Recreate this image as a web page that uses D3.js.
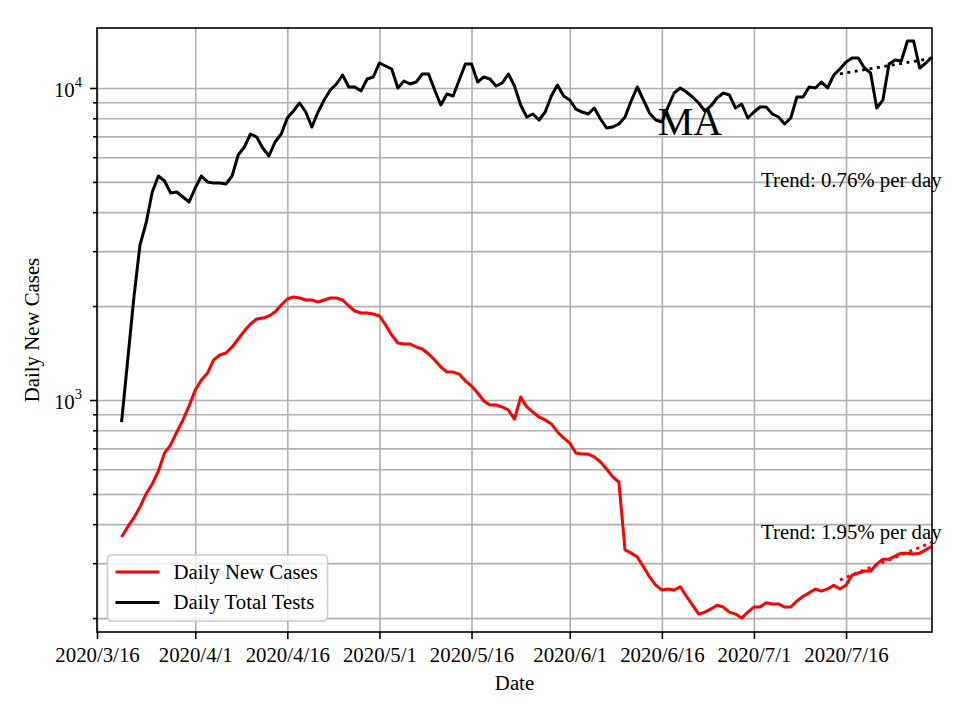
<!DOCTYPE html>
<html>
<head>
<meta charset="utf-8">
<script src="https://cdn.jsdelivr.net/npm/d3@7"></script>
<style>
  body { margin: 0; background: #fff; }
  svg text { font-family: "Liberation Serif", "Times New Roman", serif; fill: #000; }
</style>
</head>
<body>
<svg id="chart" width="960" height="720"></svg>
<script>
// Daily values, one per day starting 2020/3/20
var startDay = "2020-03-20";

var dailyTests = [
    850, 1343, 2123, 3140, 3693, 4642, 5222, 5033, 4608, 4642, 4473, 4311,
    4780, 5222, 4996, 4959, 4959, 4923, 5222, 6100, 6470, 7122, 6965, 6422, 6055, 6713, 7122,
    8013, 8437, 8952, 8375, 7499, 8375, 9152, 9853, 10299, 11007, 10074, 10074, 9781, 10686, 10846,
    12026, 11763, 11506, 10000, 10530, 10299, 10452, 11089, 11089, 9853, 8822, 9567, 9428, 10607, 11938,
    11938, 10452, 10846, 10686, 10148, 10375, 11089, 10148, 8822, 8074, 8254, 7897, 8375, 9428, 10223, 9428,
    9152, 8562, 8375, 8254, 8626, 7955, 7444, 7499, 7667, 8074, 9085, 10074, 9152, 8316, 7897,
    7780, 8690, 9638, 10000, 9710, 9359, 8952, 8437, 8758, 9289, 9638, 9497, 8626, 8887, 8013,
    8375, 8690, 8690, 8254, 8074, 7667, 8013, 9359, 9359, 10074, 10000, 10452, 10000, 11007, 11506,
    12115, 12480, 12480, 11590, 11171, 8626, 9152, 11938, 12295, 12205, 14145, 14145, 11590, 12026, 12573
];

var dailyCases = [
    364, 392, 419, 454, 500, 538, 592, 676, 718, 790, 863, 957,
    1077, 1159, 1220, 1344, 1394, 1415, 1479, 1569, 1664, 1752, 1818, 1831, 1859, 1915, 2016,
    2107, 2138, 2123, 2092, 2092, 2062, 2092, 2123, 2123, 2092, 2001, 1929, 1900, 1900, 1886,
    1859, 1740, 1616, 1523, 1512, 1512, 1479, 1457, 1404, 1344, 1276, 1229, 1229, 1211, 1151,
    1109, 1053, 993, 964, 964, 950, 929, 869, 1022, 950, 915, 882, 863, 838, 790, 756,
    728, 676, 671, 671, 657, 633, 601, 567, 546, 331, 323, 314, 292, 271, 255,
    246, 248, 246, 252, 235, 220, 206, 209, 214, 220, 217, 209, 206, 200, 209,
    217, 217, 224, 222, 222, 217, 217, 227, 235, 241, 248, 244, 248, 255, 248,
    255, 275, 279, 283, 283, 298, 309, 309, 316, 323, 323, 321, 323, 331, 340
];

// Trend fits: end points of the dotted lines
var trendDates = ["2020-07-15", "2020-07-30"];
var trendTests = [11100, 12450];
var trendCases = [265, 350];
var trendLabels = ["Trend: 0.76% per day", "Trend: 1.95% per day"];

var xTickDates = ["2020-03-16", "2020-04-01", "2020-04-16", "2020-05-01", "2020-05-16",
                  "2020-06-01", "2020-06-16", "2020-07-01", "2020-07-16"];
var xTickLabels = ["2020/3/16", "2020/4/1", "2020/4/16", "2020/5/1", "2020/5/16",
                   "2020/6/1", "2020/6/16", "2020/7/1", "2020/7/16"];
var yMajor = [1000, 10000];
var yMajorExp = ["3", "4"];
var yMinor = [200, 300, 400, 500, 600, 700, 800, 900,
              2000, 3000, 4000, 5000, 6000, 7000, 8000, 9000];

var legendLabels = ["Daily New Cases", "Daily Total Tests"];
var legendColors = ["#ff0000", "#000000"];

// layout (note: "top" is reserved on window, so use plot* names)
var plotLeft = 97, plotRight = 932, plotTop = 28, plotBottom = 632;
var fontSize = 20.8;
var gridColor = "#b0b0b0";

var parse = d3.utcParse("%Y-%m-%d");
var day0 = parse(startDay);
var days = dailyTests.map(function(d, i){ return d3.utcDay.offset(day0, i); });

var x = d3.scaleUtc()
    .domain([parse("2020-03-16"), parse("2020-07-30")])
    .range([plotLeft, plotRight]);
var y = d3.scaleLog()
    .domain([180.5, 15570])
    .range([plotBottom, plotTop]);

var $svg = d3.select("#chart");

// grid lines
var $grid = $svg.append("g").attr("class", "grid");
$grid.append("g")
    .attr("transform", `translate(0 ${plotBottom})`)
    .call(d3.axisBottom(x).tickValues(xTickDates.map(parse)).tickSize(-(plotBottom - plotTop)).tickFormat(""))
    .call(g => g.select(".domain").remove());
$grid.append("g")
    .attr("transform", `translate(${plotLeft} 0)`)
    .call(d3.axisLeft(y).tickValues(yMajor.concat(yMinor)).tickSize(-(plotRight - plotLeft)).tickFormat(""))
    .call(g => g.select(".domain").remove());
$grid.selectAll("line")
    .attr("stroke", gridColor)
    .attr("stroke-width", 1.6);

// data lines
var line = d3.line()
    .x(function(d){ return x(d[0]); })
    .y(function(d){ return y(d[1]); });

function drawSeries(values, color) {
    $svg.append("path")
        .datum(days.map(function(d, i){ return [d, values[i]]; }))
        .attr("d", line)
        .attr("fill", "none")
        .attr("stroke", color)
        .attr("stroke-width", 3)
        .attr("stroke-linejoin", "round");
}
drawSeries(dailyCases, "#ff0000");
drawSeries(dailyTests, "#000000");

// trend lines (dotted)
function drawTrend(values, color) {
    $svg.append("path")
        .datum(trendDates.map(function(d, i){ return [parse(d), values[i]]; }))
        .attr("d", line)
        .attr("fill", "none")
        .attr("stroke", color)
        .attr("stroke-width", 3)
        .attr("stroke-dasharray", "3,4.5");
}
drawTrend(trendCases, "#ff0000");
drawTrend(trendTests, "#000000");

// axes with ticks
var $axes = $svg.append("g").attr("class", "axes");
var $xAxis = $axes.append("g")
    .attr("transform", `translate(0 ${plotBottom})`)
    .call(d3.axisBottom(x)
        .tickValues(xTickDates.map(parse))
        .tickFormat(function(d, i){ return xTickLabels[i]; })
        .tickSize(7)
        .tickPadding(8));
$xAxis.selectAll("text").attr("font-size", fontSize).attr("font-family", "Liberation Serif");

$axes.append("g")
    .attr("transform", `translate(${plotLeft} 0)`)
    .call(d3.axisLeft(y).tickValues(yMajor).tickSize(7).tickFormat(""));
$axes.append("g")
    .attr("transform", `translate(${plotLeft} 0)`)
    .call(d3.axisLeft(y).tickValues(yMinor).tickSize(4).tickFormat(""));
$axes.selectAll(".domain").remove();
$axes.selectAll(".tick line").attr("stroke", "#000").attr("stroke-width", 1.6);

// y tick labels as 10^n
yMajor.forEach(function(v, i){
    var t = $svg.append("text")
        .attr("x", plotLeft - 15)
        .attr("y", y(v) + 8.7)
        .attr("text-anchor", "end")
        .attr("font-size", fontSize);
    t.append("tspan").text("10");
    t.append("tspan").attr("dy", -10).attr("font-size", 14.6).text(yMajorExp[i]);
});

// frame
$svg.append("rect")
    .attr("x", plotLeft).attr("y", plotTop)
    .attr("width", plotRight - plotLeft).attr("height", plotBottom - plotTop)
    .attr("fill", "none")
    .attr("stroke", "#000")
    .attr("stroke-width", 1.6);

// texts in plot
$svg.append("text")
    .attr("x", 690).attr("y", 135)
    .attr("text-anchor", "middle")
    .attr("font-size", 40)
    .text("MA");
$svg.append("text")
    .attr("x", 761).attr("y", 187)
    .attr("font-size", fontSize)
    .text(trendLabels[0]);
$svg.append("text")
    .attr("x", 761).attr("y", 539)
    .attr("font-size", fontSize)
    .text(trendLabels[1]);

// axis labels
$svg.append("text")
    .attr("x", (plotLeft + plotRight) / 2).attr("y", 690)
    .attr("text-anchor", "middle")
    .attr("font-size", fontSize)
    .text("Date");
$svg.append("text")
    .attr("transform", `translate(38.5 ${(plotTop + plotBottom) / 2}) rotate(-90)`)
    .attr("text-anchor", "middle")
    .attr("font-size", fontSize)
    .text("Daily New Cases");

// legend
var $legend = $svg.append("g").attr("transform", "translate(107.5 555)");
$legend.append("rect")
    .attr("width", 220).attr("height", 66)
    .attr("rx", 4)
    .attr("fill", "#fff").attr("fill-opacity", 0.8)
    .attr("stroke", "#cccccc").attr("stroke-width", 1.6);
legendLabels.forEach(function(label, i){
    var yy = 17 + i * 30.5;
    $legend.append("line")
        .attr("x1", 8).attr("x2", 52)
        .attr("y1", yy).attr("y2", yy)
        .attr("stroke", legendColors[i])
        .attr("stroke-width", 3);
    $legend.append("text")
        .attr("x", 66).attr("y", yy + 6.5)
        .attr("font-size", fontSize)
        .text(label);
});
</script>
</body>
</html>
